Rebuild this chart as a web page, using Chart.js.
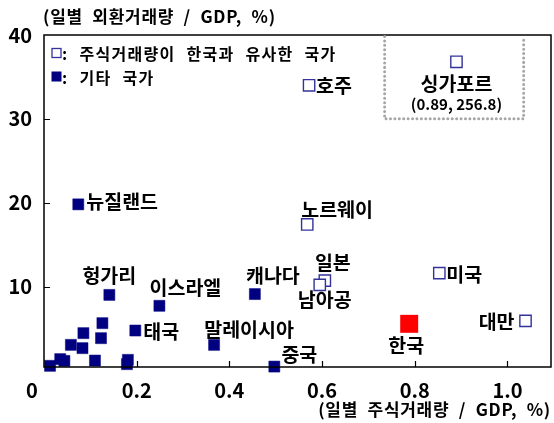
<!DOCTYPE html>
<html>
<head>
<meta charset="utf-8">
<script src="https://cdn.jsdelivr.net/npm/chart.js@4"></script>
<style>
  html, body { margin: 0; padding: 0; background: #fff; }
  #wrap { width: 554px; height: 423px; }
</style>
</head>
<body>
<div id="wrap"><canvas id="c" width="554" height="423"></canvas></div>
<script>
// ---- data ----
const similarNames = ['호주', '노르웨이', '일본', '남아공', '미국', '대만', '싱가포르'];
const similarX = [0.572, 0.568, 0.606, 0.595, 0.853, 1.039, 0.89];
const similarY = [34.0, 17.4, 10.7, 10.2, 11.6, 5.9, 256.8];

const otherNames = ['뉴질랜드', '헝가리', '캐나다', '이스라엘', '태국', '말레이시아', '중국',
  '', '', '', '', '', '', '', '', '', '', ''];
const otherX = [0.074, 0.141, 0.455, 0.249, 0.197, 0.367, 0.497,
  0.013, 0.035, 0.044, 0.058, 0.085, 0.083, 0.110, 0.126, 0.123, 0.181, 0.179];
const otherY = [19.8, 9.0, 9.1, 7.7, 4.75, 3.04, 0.45,
  0.54, 1.34, 1.13, 3.04, 4.44, 2.65, 1.17, 5.63, 3.84, 1.25, 0.74];

const koreaNames = ['한국'];
const koreaX = [0.788];
const koreaY = [5.55];

const xTickValues = [0, 0.2, 0.4, 0.6, 0.8, 1.0];
const xTickLabels = ['0', '0.2', '0.4', '0.6', '0.8', '1.0'];
const yTickValues = [10, 20, 30, 40];

const xTitle = '(일별 주식거래량 / GDP, %)';
const yTitle = '(일별 외환거래량 / GDP, %)';
const legendSimilar = ': 주식거래량이 한국과 유사한 국가';
const legendOther = ': 기타 국가';

// ---- display settings ----
const Y_MAX = 40;
const INSET_Y = 36.8;              // where an off-scale point is drawn inside the inset box
const INSET_BOX = { x0: 0.735, x1: 1.035, y0: 30.0, y1: 40 };
const FONT = "'Noto Sans CJK KR', 'Noto Sans', sans-serif";
const NAVY = '#000080';
const OPEN_BORDER = '#33339a';

const labelOffsets = {
  '호주': [7, 0, 'left'], '노르웨이': [-6, -15, 'left'], '일본': [8, -18, 'center'],
  '남아공': [5, 15, 'center'], '미국': [7, 1, 'left'], '대만': [-11, 1, 'right'],
  '싱가포르': [0, 22, 'center'], '뉴질랜드': [8, -3, 'left'], '헝가리': [0, -19, 'center'],
  '이스라엘': [26, -18, 'center'], '캐나다': [18, -18, 'center'], '태국': [8, 1, 'left'],
  '말레이시아': [35, -15, 'center'], '중국': [25, -12, 'center'], '한국': [-3, 22, 'center']
};

function toPoints(xs, ys) {
  return xs.map((x, i) => ({ x: x, y: ys[i] > Y_MAX ? INSET_Y : ys[i], rawY: ys[i] }));
}

function setSpacing(ctx, letter, word) {
  if ('letterSpacing' in ctx) ctx.letterSpacing = letter + 'px';
  if ('wordSpacing' in ctx) ctx.wordSpacing = word + 'px';
}

const decorPlugin = {
  id: 'decor',
  afterDatasetsDraw(chart) {
    const ctx = chart.ctx;
    const a = chart.chartArea;
    const xs = chart.scales.x, ys = chart.scales.y;
    ctx.save();
    // frame
    ctx.strokeStyle = '#000';
    ctx.lineWidth = 1.5;
    ctx.strokeRect(a.left, a.top, a.right - a.left, a.bottom - a.top);
    // inward tick marks
    ctx.lineWidth = 1.2;
    ctx.beginPath();
    xTickValues.forEach(v => {
      if (v === 0) return;
      const px = Math.round(xs.getPixelForValue(v)) + 0.5;
      ctx.moveTo(px, a.bottom); ctx.lineTo(px, a.bottom - 6);
    });
    yTickValues.forEach(v => {
      if (v === Y_MAX) return;
      const py = Math.round(ys.getPixelForValue(v)) + 0.5;
      ctx.moveTo(a.left, py); ctx.lineTo(a.left + 6, py);
    });
    ctx.stroke();

    // x tick labels (the "0" sits left of the origin, as in the original)
    ctx.fillStyle = '#000';
    ctx.font = 'bold 20px ' + FONT;
    ctx.textAlign = 'center';
    ctx.textBaseline = 'middle';
    xTickValues.forEach((v, i) => {
      const px = xs.getPixelForValue(v) - (v === 0 ? 12 : 0);
      ctx.fillText(xTickLabels[i], px, a.bottom + 23);
    });

    // dotted inset box
    const bx0 = xs.getPixelForValue(INSET_BOX.x0), bx1 = xs.getPixelForValue(INSET_BOX.x1);
    const by0 = ys.getPixelForValue(INSET_BOX.y0), by1 = ys.getPixelForValue(INSET_BOX.y1);
    ctx.strokeStyle = '#a6a6a6';
    ctx.lineWidth = 3;
    ctx.lineCap = 'round';
    ctx.setLineDash([0.01, 4.4]);
    ctx.beginPath();
    ctx.moveTo(bx0, by1 + 1.5); ctx.lineTo(bx0, by0); ctx.lineTo(bx1, by0); ctx.lineTo(bx1, by1 + 1.5);
    ctx.stroke();
    ctx.setLineDash([]);
    ctx.lineCap = 'butt';

    // point labels
    ctx.fillStyle = '#000';
    ctx.textBaseline = 'middle';
    chart.data.datasets.forEach((ds, di) => {
      const meta = chart.getDatasetMeta(di);
      ds.names.forEach((name, i) => {
        if (!name) return;
        const el = meta.data[i];
        const off = labelOffsets[name] || [8, 0, 'left'];
        ctx.font = 'bold 19.5px ' + FONT;
        ctx.textAlign = off[2];
        ctx.fillText(name, el.x + off[0], el.y + off[1]);
        const raw = ds.data[i];
        if (raw.rawY > Y_MAX) {
          ctx.font = 'bold 15px ' + FONT;
          ctx.fillText('(' + raw.x.toFixed(2) + ', ' + raw.rawY.toFixed(1) + ')', el.x + off[0], el.y + off[1] + 20);
        }
      });
    });

    // legend
    ctx.textAlign = 'left';
    ctx.font = 'bold 16px ' + FONT;
    const ly1 = 53, ly2 = 76.5;
    ctx.fillStyle = '#fff';
    ctx.strokeStyle = OPEN_BORDER;
    ctx.lineWidth = 1.3;
    ctx.fillRect(52, ly1 - 4.5, 9, 9);
    ctx.strokeRect(52, ly1 - 4.5, 9, 9);
    ctx.fillStyle = NAVY;
    ctx.fillRect(51.5, ly2 - 5, 10, 10);
    ctx.fillStyle = '#000';
    setSpacing(ctx, 1.3, 6);
    ctx.fillText(legendSimilar, 62, ly1 + 1);
    ctx.fillText(legendOther, 62, ly2 + 1);

    // axis titles
    ctx.font = 'bold 17px ' + FONT;
    setSpacing(ctx, 0.7, 5);
    ctx.textAlign = 'left';
    ctx.fillText(yTitle, 43, 17);
    ctx.textAlign = 'right';
    ctx.fillText(xTitle, a.right, 410);
    setSpacing(ctx, 0, 0);
    ctx.restore();
  }
};

new Chart(document.getElementById('c'), {
  type: 'scatter',
  data: {
    datasets: [
      {
        label: 'similar', names: similarNames,
        data: toPoints(similarX, similarY),
        pointStyle: 'rect', pointRadius: 8, pointHoverRadius: 8,
        backgroundColor: '#ffffff', borderColor: OPEN_BORDER, borderWidth: 1.4,
        clip: false, order: 2
      },
      {
        label: 'other', names: otherNames,
        data: toPoints(otherX, otherY),
        pointStyle: 'rect', pointRadius: 7.8, pointHoverRadius: 7.8,
        backgroundColor: NAVY, borderColor: NAVY, borderWidth: 0.5,
        clip: false, order: 3
      },
      {
        label: 'korea', names: koreaNames,
        data: toPoints(koreaX, koreaY),
        pointStyle: 'rect', pointRadius: 12.7, pointHoverRadius: 12.7,
        backgroundColor: '#ff0000', borderColor: '#ff0000', borderWidth: 0,
        clip: false, order: 1
      }
    ]
  },
  options: {
    responsive: false,
    animation: false,
    events: [],
    layout: { autoPadding: false, padding: { top: 35, right: 3, left: 0, bottom: 0 } },
    plugins: { legend: { display: false }, tooltip: { enabled: false } },
    scales: {
      x: {
        type: 'linear', min: 0, max: 1.094,
        afterBuildTicks: s => { s.ticks = xTickValues.map(v => ({ value: v })); },
        afterFit: s => { s.height = 56; s.paddingLeft = 0; s.paddingRight = 0; },
        grid: { display: false, drawTicks: false },
        border: { display: false },
        ticks: { display: false },
        title: { display: false }
      },
      y: {
        type: 'linear', min: 0.4, max: Y_MAX,
        afterBuildTicks: s => { s.ticks = yTickValues.map(v => ({ value: v })); },
        afterFit: s => { s.width = 44; s.paddingTop = 0; s.paddingBottom = 0; },
        grid: { display: false, drawTicks: false },
        border: { display: false },
        ticks: {
          padding: 12, color: '#000',
          font: { family: FONT, size: 20, weight: 'bold' }
        }
      }
    }
  },
  plugins: [decorPlugin]
});
</script>
</body>
</html>
